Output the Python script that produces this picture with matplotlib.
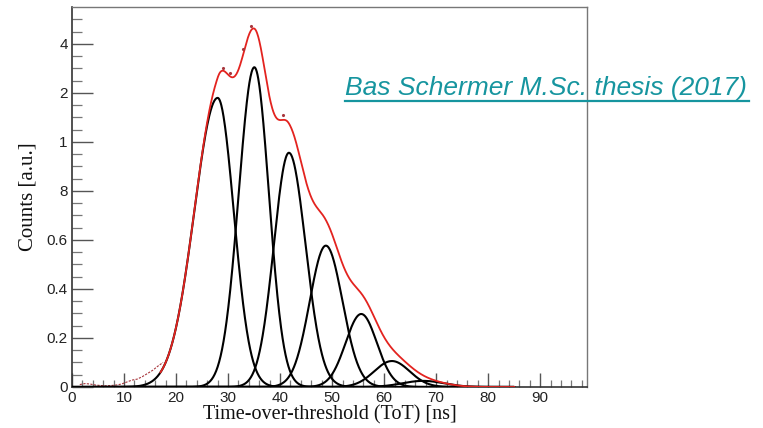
import numpy as np
import matplotlib
matplotlib.use("Agg")
import matplotlib.pyplot as plt
from matplotlib.lines import Line2D

# Fitted Gaussian components
peak_means = [28.0, 35.05, 41.7, 48.8, 55.6, 61.5, 67.5]
peak_amps = [1.18, 1.305, 0.956, 0.577, 0.298, 0.106, 0.025]
sigma_left = [4.5, 3.0, 2.9, 3.1, 3.0, 3.4, 4.0]
sigma_right = [3.1, 2.8, 3.2, 3.2, 3.0, 3.4, 4.0]

# Measured data points (dark red)
data_x = [1.5, 2.5, 3.5, 4.5, 5.5, 6.5, 7.5, 8.5, 9.5, 10.5, 11.5, 12.5,
          13.5, 14.5, 15.5, 16.5, 17.5]
data_y = [0.010, 0.014, 0.012, 0.008, 0.006, 0.005, 0.006, 0.008, 0.012,
          0.020, 0.028, 0.032, 0.042, 0.055, 0.068, 0.085, 0.100]
peak_pts_x = [29.1, 30.4, 32.9, 34.4, 40.6]
peak_pts_y = [1.30, 1.28, 1.38, 1.475, 1.11]

xticks = [0, 10, 20, 30, 40, 50, 60, 70, 80, 90]
yticks = [0, 0.2, 0.4, 0.6, 0.8, 1.0, 1.2, 1.4]
ytick_labels = ["0", "0.2", "0.4", "0.6", "8", "1", "2", "4"]

W, H = 763, 428
fig = plt.figure(figsize=(W / 100, H / 100), dpi=100)
ax = fig.add_axes([72 / W, 1 - 387 / H, (587 - 72) / W, (387 - 7) / H])


def split_gauss(x, a, m, sl, sr):
    s = np.where(x < m, sl, sr)
    return a * np.exp(-0.5 * ((x - m) / s) ** 2)


xs = np.linspace(0, 85, 1200)
total = np.zeros_like(xs)
for a, m, sl, sr in zip(peak_amps, peak_means, sigma_left, sigma_right):
    y = split_gauss(xs, a, m, sl, sr)
    total += y
    ax.plot(xs, y, color="black", lw=1.5, zorder=3, solid_capstyle="round")

mask = xs >= 17
ax.plot(data_x, data_y, color="#a8363c", lw=0.8, ls=(0, (2, 1.2)), zorder=2)
ax.plot(peak_pts_x, peak_pts_y, ls="none", marker=".", ms=2.5,
        color="#a8363c", zorder=5)
ax.plot(xs[mask], total[mask], color="#e3231f", lw=1.3, zorder=4)

ax.set_xlim(0, 99)
ax.set_ylim(0, 1.551)

ax.set_xticks(xticks)
ax.set_xticks(np.arange(0, 99, 2), minor=True)
ax.set_yticks(yticks)
ax.set_yticklabels(ytick_labels)
ax.set_yticks(np.arange(0, 1.55, 0.05), minor=True)

ax.tick_params(axis="x", which="major", direction="in", length=10, width=1.0,
               color="#555555", labelsize=11, pad=3)
ax.tick_params(axis="x", which="minor", direction="in", length=5, width=0.9,
               color="#777777")
ax.tick_params(axis="y", which="major", direction="in", length=15, width=1.0,
               color="#555555", labelsize=11, pad=3)
ax.tick_params(axis="y", which="minor", direction="in", length=7, width=0.9,
               color="#777777")
for lab in ax.get_xticklabels() + ax.get_yticklabels():
    lab.set_fontfamily("Liberation Sans")
    lab.set_color("#222222")

for side in ["left", "bottom"]:
    ax.spines[side].set_color("#333333")
    ax.spines[side].set_linewidth(1.2)
for side in ["top", "right"]:
    ax.spines[side].set_color("#777777")
    ax.spines[side].set_linewidth(1.0)

ax.set_xlabel("Time-over-threshold (ToT) [ns]", fontfamily="Liberation Serif",
              fontsize=14.5, color="#111111")
ax.set_ylabel("Counts [a.u.]", fontfamily="Liberation Serif", fontsize=15,
              color="#111111")
ax.xaxis.set_label_coords((330 - 72) / 515, -(405 - 387) / 380)
ax.yaxis.set_label_coords(-(72 - 37) / 515, 0.5)

teal = "#16959f"
fig.text(345 / W, 1 - 95 / H, "Bas Schermer M.Sc. thesis (2017)",
         fontfamily="Liberation Sans", fontstyle="italic", fontsize=19,
         color=teal, ha="left", va="baseline", zorder=10)
fig.add_artist(Line2D([345 / W, 749 / W], [1 - 100.5 / H, 1 - 100.5 / H],
                      transform=fig.transFigure, color=teal, lw=1.6))

fig.savefig("out.png", dpi=100)
